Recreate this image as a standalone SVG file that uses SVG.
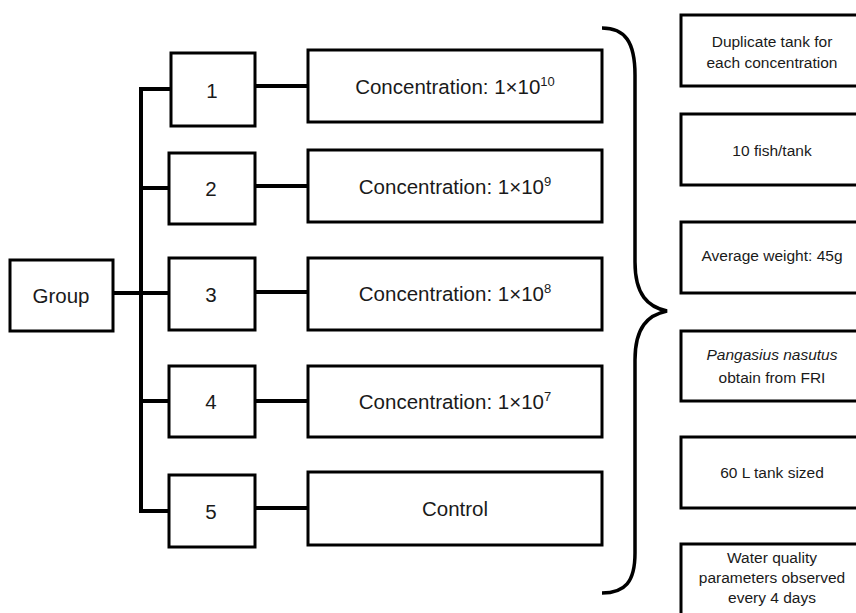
<svg xmlns="http://www.w3.org/2000/svg" width="856" height="613" viewBox="0 0 856 613">
<style>
.box{fill:#fff;stroke:#000;stroke-width:3}
.ln{stroke:#000;stroke-width:4;fill:none}
text{font-family:"Liberation Sans",Arial,sans-serif;fill:#1a1a1a;text-anchor:middle}
.big{font-size:20.5px}
.sm{font-size:15.5px}
</style>
<rect width="856" height="613" fill="#fff"/>
<g id="connectors">
<line class="ln" x1="141" y1="87" x2="141" y2="513"/>
<line class="ln" x1="139" y1="89" x2="171" y2="89"/>
<line class="ln" x1="139" y1="188" x2="169" y2="188"/>
<line class="ln" x1="113" y1="293" x2="169" y2="293"/>
<line class="ln" x1="139" y1="401" x2="169" y2="401"/>
<line class="ln" x1="139" y1="511" x2="169" y2="511"/>
<line class="ln" x1="255" y1="86" x2="308" y2="86"/>
<line class="ln" x1="255" y1="186" x2="308" y2="186"/>
<line class="ln" x1="255" y1="292" x2="308" y2="292"/>
<line class="ln" x1="255" y1="401" x2="308" y2="401"/>
<line class="ln" x1="255" y1="508" x2="308" y2="508"/>
<path class="ln" style="stroke-width:3.5" d="M602,28 C625,28 635,42 635,75 L635,262 C635,295 648,307 667,311 C648,315 635,327 635,360 L635,553 C635,582 625,593 602,593"/>
</g>
<g id="group"><rect class="box" x="10" y="260" width="103" height="71"/><text class="big" x="61" y="303">Group</text></g>
<g id="n1"><rect class="box" x="171" y="53" width="84" height="73"/><text class="big" x="212" y="98">1</text></g>
<g id="n2"><rect class="box" x="169" y="153" width="86" height="71"/><text class="big" x="211" y="196">2</text></g>
<g id="n3"><rect class="box" x="169" y="258" width="86" height="72"/><text class="big" x="211" y="302">3</text></g>
<g id="n4"><rect class="box" x="169" y="366" width="86" height="71"/><text class="big" x="211" y="409">4</text></g>
<g id="n5"><rect class="box" x="169" y="475" width="86" height="72"/><text class="big" x="211" y="519">5</text></g>
<g id="c1"><rect class="box" x="308" y="50" width="294" height="72"/><text class="big" x="455" y="94">Concentration: 1×10<tspan font-size="13" dy="-8">10</tspan></text></g>
<g id="c2"><rect class="box" x="308" y="150" width="294" height="72"/><text class="big" x="455" y="194">Concentration: 1×10<tspan font-size="13" dy="-8">9</tspan></text></g>
<g id="c3"><rect class="box" x="308" y="258" width="294" height="72"/><text class="big" x="455" y="301">Concentration: 1×10<tspan font-size="13" dy="-8">8</tspan></text></g>
<g id="c4"><rect class="box" x="308" y="366" width="294" height="71"/><text class="big" x="455" y="409">Concentration: 1×10<tspan font-size="13" dy="-8">7</tspan></text></g>
<g id="c5"><rect class="box" x="308" y="472" width="294" height="73"/><text class="big" x="455" y="516">Control</text></g>
<g id="r1"><rect class="box" x="681" y="15" width="182" height="71"/><text class="sm" x="772" y="47">Duplicate tank for</text><text class="sm" x="772" y="68">each concentration</text></g>
<g id="r2"><rect class="box" x="681" y="114" width="182" height="71"/><text class="sm" x="772" y="156">10 fish/tank</text></g>
<g id="r3"><rect class="box" x="681" y="222" width="182" height="71"/><text class="sm" x="772" y="261">Average weight: 45g</text></g>
<g id="r4"><rect class="box" x="681" y="331" width="182" height="70"/><text class="sm" x="772" y="360" font-style="italic">Pangasius nasutus</text><text class="sm" x="772" y="383">obtain from FRI</text></g>
<g id="r5"><rect class="box" x="681" y="437" width="182" height="71"/><text class="sm" x="772" y="478">60 L tank sized</text></g>
<g id="r6"><rect class="box" x="681" y="544" width="182" height="80"/><text class="sm" x="772" y="563">Water quality</text><text class="sm" x="772" y="583">parameters observed</text><text class="sm" x="772" y="603">every 4 days</text></g>
</svg>
